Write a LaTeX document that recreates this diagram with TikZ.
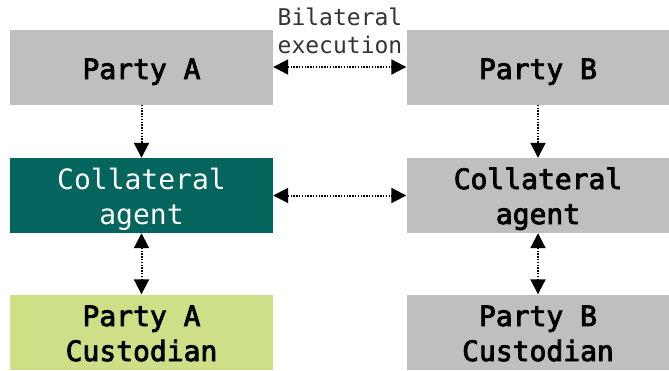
\documentclass[tikz,border=0pt]{standalone}
\usepackage{fontspec}
\setmonofont{DejaVu Sans Mono}
\newfontfamily\panelfont[FakeBold=3]{DejaVu Sans Mono}
\usetikzlibrary{arrows.meta}
\definecolor{boxgray}{HTML}{BFBFBF}
\definecolor{agentteal}{HTML}{04645E}
\definecolor{custgreen}{HTML}{CDDF87}
\definecolor{labelgray}{HTML}{333333}
\begin{document}
\begin{tikzpicture}[x=1pt,y=-1pt,
  panel/.style={rectangle, draw=none, minimum width=263pt, minimum height=75pt,
    inner sep=0pt},
  graypanel/.style={panel, fill=boxgray},
  tealpanel/.style={panel, fill=agentteal},
  greenpanel/.style={panel, fill=custgreen},
  % anchor=base sits on the baseline of the last line
  paneltext/.style={anchor=base, align=center, inner sep=0pt, text=black,
    font=\panelfont\fontsize{28}{35}\selectfont},
  lighttext/.style={paneltext, text=white,
    font=\ttfamily\fontsize{28}{35}\selectfont},
  tip/.tip={Triangle[length=15pt,width=15pt]},
  link/.style={line width=2pt, dash pattern=on 1.5pt off 1.3pt, -tip},
  dlink/.style={link, tip-tip}
]
\useasboundingbox (0,0) rectangle (669,370);

% parties
\node[graypanel] (pa) at (141.5,67) {};
\node[graypanel] (pb) at (538,67) {};
\node[paneltext] (pa-t) at (141.5,79) {Party A};
\node[paneltext] (pb-t) at (538,79) {Party B};

% collateral agents
\node[tealpanel] (ca) at (141.5,195.5) {};
\node[graypanel] (cb) at (538,195.5) {};
\node[lighttext] (ca-t) at (141.5,224) {Collateral\\agent};
\node[paneltext] (cb-t) at (538,224) {Collateral\\agent};

% custodians
\node[greenpanel] (ka) at (141.5,332) {};
\node[graypanel] (kb) at (538,332) {};
\node[paneltext] (ka-t) at (141.5,361) {Party A\\Custodian};
\node[paneltext] (kb-t) at (538,361) {Party B\\Custodian};

% label over the top link
\node[anchor=base, text=labelgray, align=center, inner sep=0pt,
  font=\ttfamily\fontsize{23}{28}\selectfont] (lbl) at (340,53) {Bilateral\\execution};

% connectors
\draw[dlink] (pa.east) -- (pb.west);
\draw[dlink] (ca.east) -- (cb.west);
\draw[link] (pa.south) -- (ca.north);
\draw[link] (pb.south) -- (cb.north);
\draw[dlink] (ca.south) -- (ka.north);
\draw[dlink] (cb.south) -- (kb.north);
\end{tikzpicture}
\end{document}
